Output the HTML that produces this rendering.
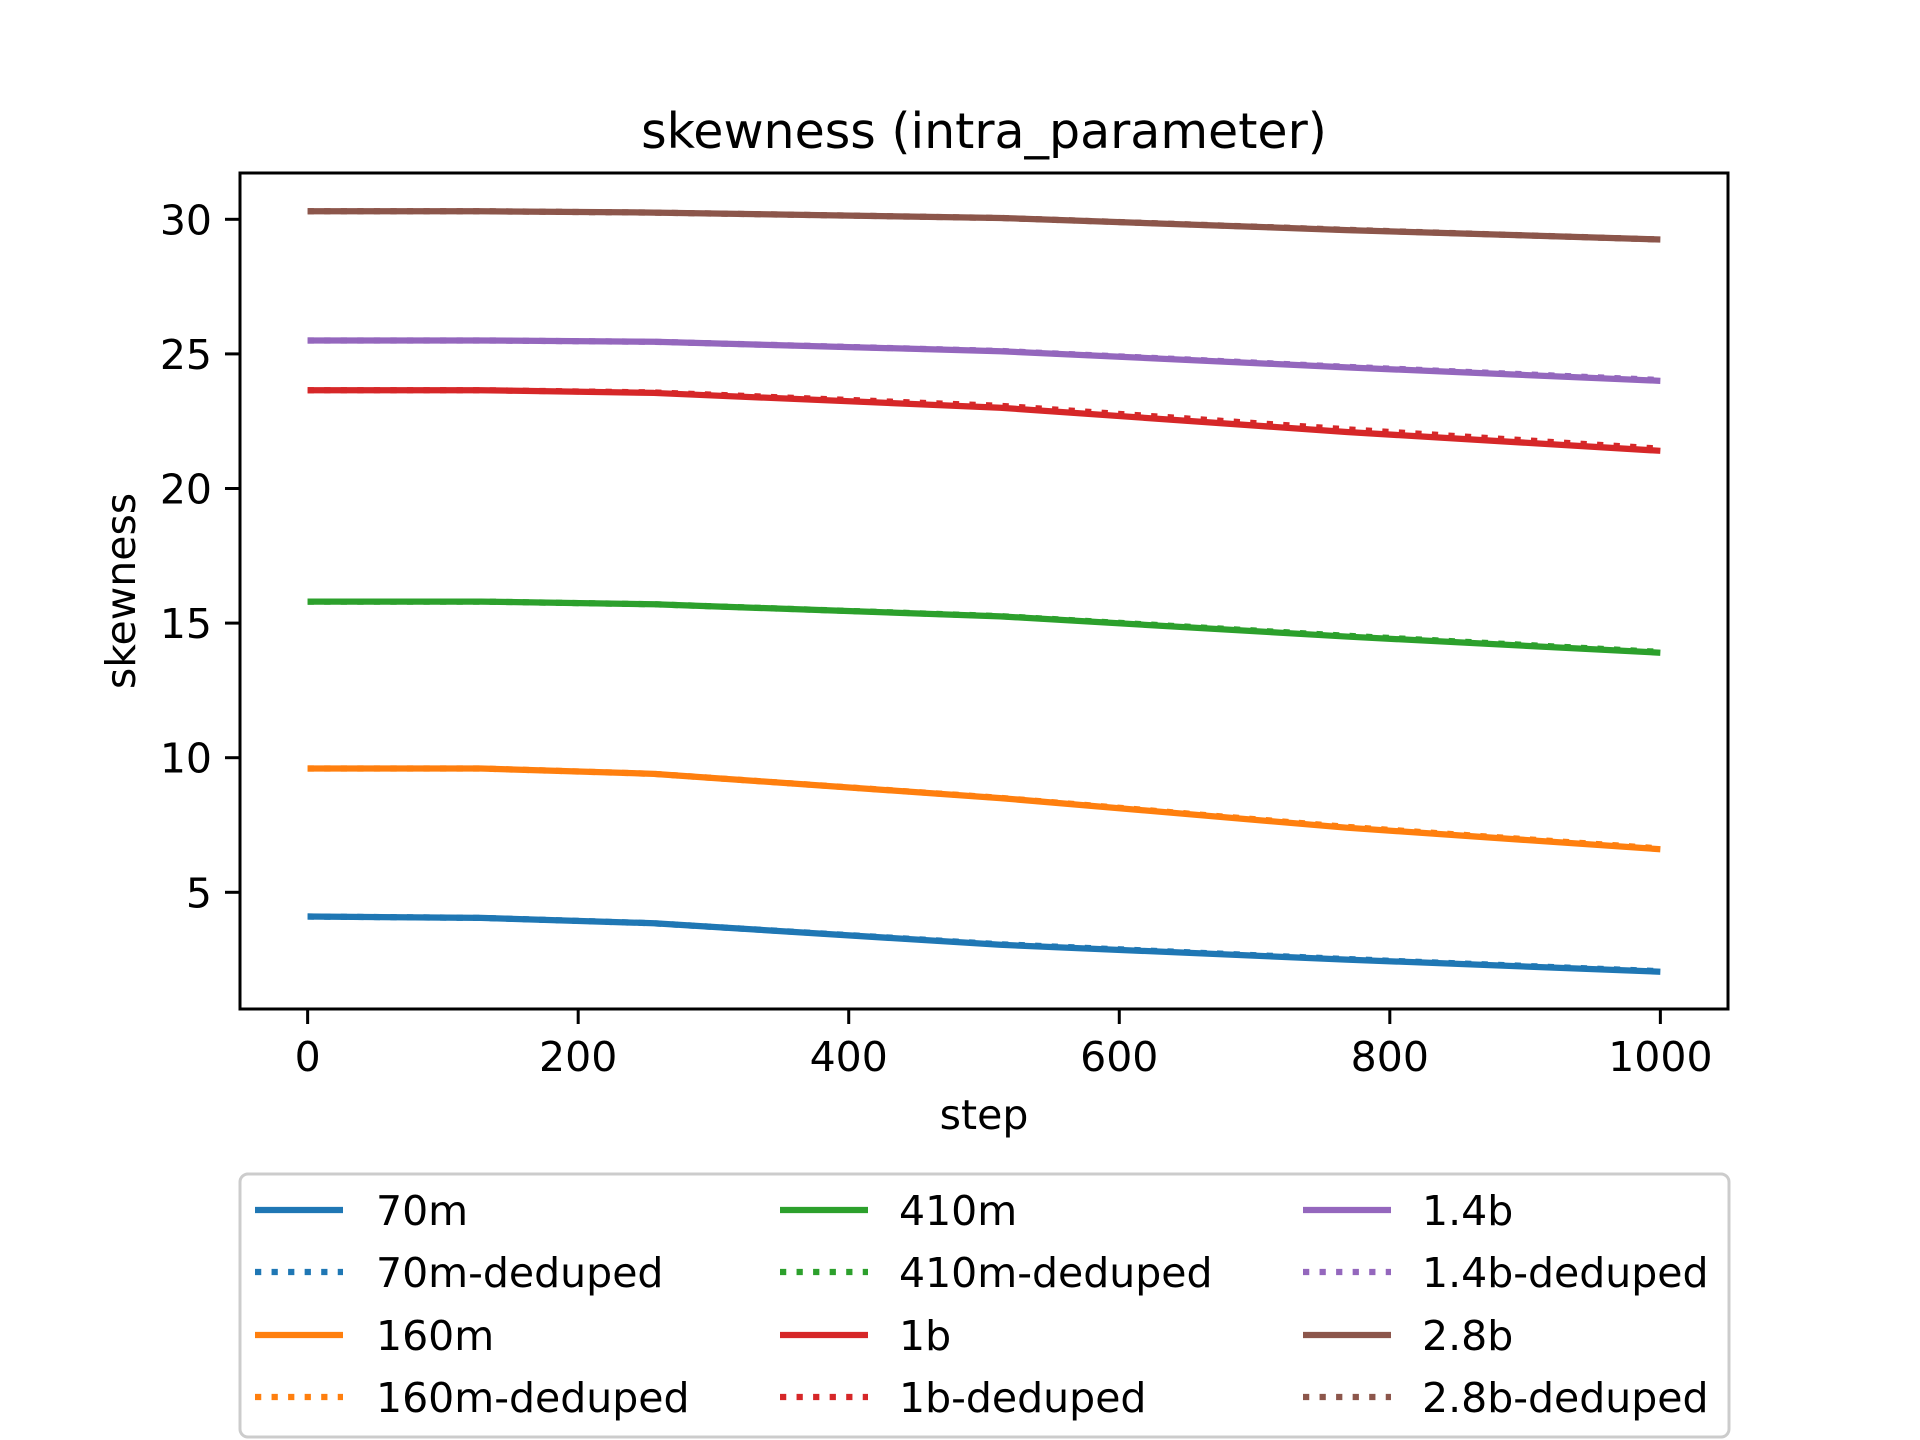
<!DOCTYPE html>
<html><head><meta charset="utf-8"><style>body{margin:0;background:#fff}svg{display:block;font-family:"DejaVu Sans","Liberation Sans",sans-serif}</style></head>
<body>
<svg id="chart" width="1920" height="1440" viewBox="0 0 1920 1440" xmlns="http://www.w3.org/2000/svg">
<rect width="1920" height="1440" fill="#fff"/>
<text x="984" y="148" font-size="49" text-anchor="middle">skewness (intra_parameter)</text>
<g id="plot"></g>
<rect x="240" y="173" width="1488" height="836" fill="none" stroke="#000" stroke-width="3"/>
<g id="ticks"></g>
<text x="984" y="1129" font-size="41" text-anchor="middle">step</text>
<text x="135" y="591" font-size="41" text-anchor="middle" transform="rotate(-90 135 591)">skewness</text>
<g id="legend"><rect x="240" y="1174" width="1489" height="263" rx="8" fill="#fff" stroke="#ccc" stroke-width="3"/></g>
</svg>
<script>
const steps = [0, 128, 256, 512, 768, 1000];
const names = ["70m","160m","410m","1b","1.4b","2.8b"];
const colors = ["#1f77b4","#ff7f0e","#2ca02c","#d62728","#9467bd","#8c564b"];
const v70m = [4.1, 4.05, 3.85, 3.05, 2.5, 2.05];
const v70mD = [4.1, 4.05, 3.85, 3.07, 2.52, 2.07];
const v160m = [9.6, 9.6, 9.4, 8.5, 7.4, 6.6];
const v160mD = [9.6, 9.6, 9.4, 8.51, 7.43, 6.63];
const v410m = [15.8, 15.8, 15.7, 15.25, 14.5, 13.9];
const v410mD = [15.8, 15.8, 15.7, 15.26, 14.53, 13.93];
const v1b = [23.65, 23.65, 23.55, 23.0, 22.1, 21.4];
const v1bD = [23.65, 23.65, 23.57, 23.07, 22.2, 21.48];
const v14b = [25.5, 25.5, 25.45, 25.1, 24.5, 24.0];
const v14bD = [25.5, 25.5, 25.45, 25.11, 24.52, 24.03];
const v28b = [30.3, 30.3, 30.25, 30.05, 29.6, 29.25];
const v28bD = [30.3, 30.3, 30.25, 30.05, 29.61, 29.25];
const xTicks = [0, 200, 400, 600, 800, 1000];
const yTicks = [5, 10, 15, 20, 25, 30];
const series = [v70m,v160m,v410m,v1b,v14b,v28b];
const seriesD = [v70mD,v160mD,v410mD,v1bD,v14bD,v28bD];
const NS="http://www.w3.org/2000/svg";
const X = s => 240 + (s + 50) * 1488 / 1100;
const Y = v => 173 + (31.72 - v) * 836 / (31.72 - 0.665);
function mk(tag, attrs, parent){const e=document.createElementNS(NS,tag);for(const k in attrs)e.setAttribute(k,attrs[k]);parent.appendChild(e);return e;}
const plot=document.getElementById('plot');
for(let i=0;i<6;i++){
  const pts=series[i].map((v,j)=>X(steps[j])+','+Y(v)).join(' ');
  const l=mk('polyline',{points:pts,fill:'none',stroke:colors[i],'stroke-width':6.25,'stroke-linejoin':'round'},plot);
  
  
  const ptsD=seriesD[i].map((v,j)=>X(steps[j])+','+Y(v)).join(' ');
  const d=mk('polyline',{points:ptsD,fill:'none',stroke:colors[i],'stroke-width':6.25,'stroke-dasharray':'6.25 10.3'},plot);
  
  
}
const ticks=document.getElementById('ticks');
xTicks.forEach(t=>{
  const tl=mk('line',{x1:X(t),x2:X(t),y1:1009,y2:1024,stroke:'#000','stroke-width':3},ticks);
  
  
  const tx=mk('text',{x:X(t),y:1071,'font-size':41,'text-anchor':'middle'},ticks);tx.textContent=t;
  
  
});
yTicks.forEach(t=>{
  const tl=mk('line',{x1:225,x2:240,y1:Y(t),y2:Y(t),stroke:'#000','stroke-width':3},ticks);
  
  
  const tx=mk('text',{x:212,y:Y(t)+15,'font-size':41,'text-anchor':'end'},ticks);tx.textContent=t;
  
  
});
const leg=document.getElementById('legend');
const colH=[255,780,1303], colT=[376,899,1422], rowY=[1210,1272,1335,1397];
for(let i=0;i<6;i++){
  const c=Math.floor(i/2), r=(i%2)*2;
  [[0,names[i]],[1,names[i]+'-deduped']].forEach(([k,label])=>{
    const y=rowY[r+k];
    const g=mk('g',{},leg);
    
    
    const a={x1:colH[c],x2:colH[c]+88,y1:y,y2:y,stroke:colors[i],'stroke-width':6.25};
    if(k)a['stroke-dasharray']='6.25 10.3';
    mk('line',a,g);
    const t=mk('text',{x:colT[c],y:y+15,'font-size':41},g);t.textContent=label;
  });
}
</script>
</body></html>
